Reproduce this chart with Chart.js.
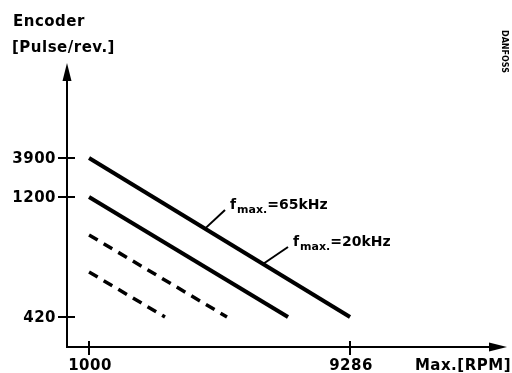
<!DOCTYPE html>
<html>
<head>
<meta charset="utf-8">
<script src="https://cdn.jsdelivr.net/npm/chart.js@4/dist/chart.umd.min.js"></script>
<style>
  body { margin: 0; background: #fff; }
  #wrap { width: 512px; height: 373px; }
</style>
</head>
<body>
<div id="wrap"><canvas id="encoderChart" width="512" height="373"></canvas></div>
<script>
// X axis: max RPM (linear), Y axis: schematic level (not to scale in the original)
const xRange = [300, 14270];
const yRange = [0, 284];

const xTickValues = [1000, 9286];
const xTickLabels = ['1000', '9286'];
const yTickLevels = [189, 150, 30];
const yTickLabels = ['3900', '1200', '420'];

// each series: start at 1000 RPM, end at the 420 level
const seriesNames = ['65kHz', '20kHz', 'dash1', 'dash2'];
const seriesX = [[1000, 9286], [1000, 7317], [1000, 5380], [1000, 3411]];
const seriesY = [[189, 30], [150, 30], [112, 30], [75, 30]];
const seriesDashed = [false, false, true, true];

// leader labels: text, point on line 1 (rpm), label corner (rpm, level)
const noteTexts = ['=65kHz', '=20kHz'];
const noteAnchorX = [4681, 6523];
const noteLabelX = [5317, 7317];
const noteLabelY = [137, 100];

const FONT = '"DejaVu Sans", sans-serif';

function lineLevelAt(i, rpm) {
    const xs = seriesX[i], ys = seriesY[i];
    return ys[0] + (rpm - xs[0]) / (xs[1] - xs[0]) * (ys[1] - ys[0]);
}

const axesPlugin = {
    id: 'schematicAxes',
    afterDraw(chart) {
        const ctx = chart.ctx;
        const xs = chart.scales.x, ys = chart.scales.y;
        const ox = xs.left, oy = ys.bottom;
        const top = ys.top, right = xs.right;
        ctx.save();
        ctx.strokeStyle = '#000';
        ctx.fillStyle = '#000';
        ctx.lineWidth = 2;

        // axis lines
        ctx.beginPath();
        ctx.moveTo(ox, top + 12);
        ctx.lineTo(ox, oy);
        ctx.lineTo(right - 12, oy);
        ctx.stroke();

        // arrow heads
        ctx.beginPath();
        ctx.moveTo(ox, top);
        ctx.lineTo(ox - 4.5, top + 18);
        ctx.lineTo(ox + 4.5, top + 18);
        ctx.closePath();
        ctx.fill();
        ctx.beginPath();
        ctx.moveTo(right, oy);
        ctx.lineTo(right - 18, oy - 4.5);
        ctx.lineTo(right - 18, oy + 4.5);
        ctx.closePath();
        ctx.fill();

        ctx.font = 'bold 15px ' + FONT;
        ctx.letterSpacing = '0.5px';

        // y ticks
        ctx.textAlign = 'right';
        ctx.textBaseline = 'middle';
        yTickLevels.forEach((lv, i) => {
            const py = Math.round(ys.getPixelForValue(lv));
            ctx.beginPath();
            ctx.moveTo(ox - 9, py);
            ctx.lineTo(ox + 8, py);
            ctx.stroke();
            ctx.fillText(yTickLabels[i], ox - 11, py + 1);
        });

        // x ticks
        ctx.textAlign = 'center';
        ctx.textBaseline = 'alphabetic';
        xTickValues.forEach((v, i) => {
            const px = Math.round(xs.getPixelForValue(v));
            ctx.beginPath();
            ctx.moveTo(px, oy - 6);
            ctx.lineTo(px, oy + 8);
            ctx.stroke();
            ctx.fillText(xTickLabels[i], px + 1, oy + 23);
        });

        // axis titles
        ctx.textAlign = 'left';
        ctx.fillText('Encoder', 13, 26);
        ctx.fillText('[Pulse/rev.]', 12, 52);
        ctx.textAlign = 'right';
        ctx.fillText('Max.[RPM]', 511, 370);

        // leader lines and f_max labels
        ctx.lineWidth = 2;
        noteTexts.forEach((t, i) => {
            const ax = xs.getPixelForValue(noteAnchorX[i]);
            const ay = ys.getPixelForValue(lineLevelAt(0, noteAnchorX[i]));
            const lx = xs.getPixelForValue(noteLabelX[i]);
            const ly = ys.getPixelForValue(noteLabelY[i]);
            ctx.beginPath();
            ctx.moveTo(ax, ay);
            ctx.lineTo(lx, ly);
            ctx.stroke();
            let tx = lx + 5;
            const base = ly - 1;
            ctx.textAlign = 'left';
            ctx.font = 'bold 14px ' + FONT;
            ctx.letterSpacing = '0px';
            ctx.fillText('f', tx, base);
            tx += ctx.measureText('f').width + 1;
            ctx.font = 'bold 11px ' + FONT;
            ctx.fillText('max.', tx, base + 4);
            tx += ctx.measureText('max.').width;
            ctx.font = 'bold 14px ' + FONT;
            ctx.fillText(t, tx, base);
        });

        // small vertical code at top right
        ctx.save();
        ctx.translate(502, 30);
        ctx.rotate(Math.PI / 2);
        ctx.font = 'bold 8px ' + FONT;
        ctx.letterSpacing = '0px';
        ctx.textAlign = 'left';
        ctx.fillText('DANFOSS', 0, 0);
        ctx.restore();

        ctx.restore();
    }
};

const datasets = seriesNames.map((name, i) => ({
    label: name,
    data: seriesX[i].map((x, j) => ({ x: x, y: seriesY[i][j] })),
    borderColor: '#000',
    borderWidth: seriesDashed[i] ? 3.5 : 4,
    borderDash: seriesDashed[i] ? [10, 7] : [],
    borderCapStyle: 'butt',
    pointRadius: 0,
    fill: false,
    tension: 0,
    clip: false
}));

new Chart(document.getElementById('encoderChart').getContext('2d'), {
    type: 'line',
    data: { datasets: datasets },
    options: {
        responsive: false,
        animation: false,
        layout: { padding: { left: 67, right: 5, top: 63, bottom: 26 } },
        scales: {
            x: { type: 'linear', min: xRange[0], max: xRange[1], display: false },
            y: { type: 'linear', min: yRange[0], max: yRange[1], display: false }
        },
        plugins: {
            legend: { display: false },
            tooltip: { enabled: false }
        }
    },
    plugins: [axesPlugin]
});
</script>
</body>
</html>
